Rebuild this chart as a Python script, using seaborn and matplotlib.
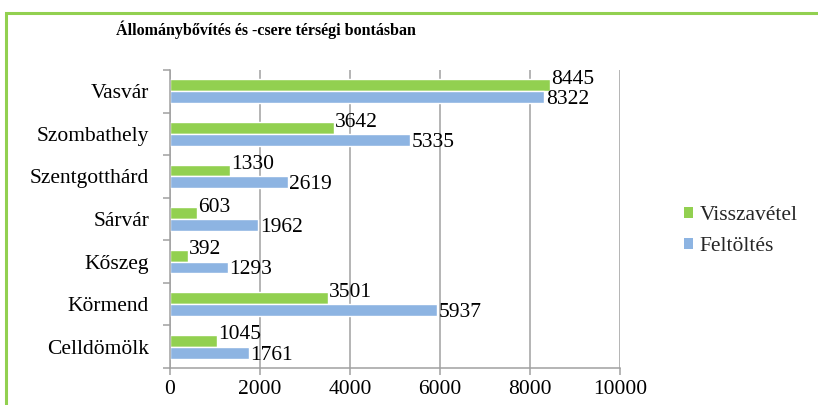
import matplotlib
matplotlib.use("Agg")
import matplotlib.pyplot as plt
import seaborn as sns
import pandas as pd
from matplotlib.patches import Rectangle, Patch
from matplotlib.ticker import FixedLocator

categories = ["Vasvár", "Szombathely", "Szentgotthárd", "Sárvár", "Kőszeg", "Körmend", "Celldömölk"]
visszavetel = [8445, 3642, 1330, 603, 392, 3501, 1045]
feltoltes = [8322, 5335, 2619, 1962, 1293, 5937, 1761]
series_names = ["Visszavétel", "Feltöltés"]
x_ticks = [0, 2000, 4000, 6000, 8000, 10000]
title = "Állománybővítés és -csere térségi bontásban"

colors = ["#92D050", "#8DB4E2"]

df = pd.DataFrame({
    "cat": categories * 2,
    "val": visszavetel + feltoltes,
    "series": [series_names[0]] * len(categories) + [series_names[1]] * len(categories),
})

sns.set_theme(style="white")
plt.rcParams["font.family"] = ["Liberation Serif", "DejaVu Serif"]

fs = 15.5
fig = plt.figure(figsize=(8.18, 4.05), dpi=100)
ax = fig.add_axes([170 / 818, 1 - 368 / 405, 450 / 818, 298 / 405])

sns.barplot(data=df, y="cat", x="val", hue="series", hue_order=series_names,
            order=categories, palette=colors, orient="h", width=0.56,
            saturation=1, ax=ax, legend=False, errorbar=None)

ax.set_xlim(0, 10000)
ax.set_ylim(len(categories) - 0.5, -0.5)
ax.set_xticks(x_ticks)
ax.set_xticklabels([str(t) for t in x_ticks], fontsize=fs, color="#000000")
ax.set_yticks(range(len(categories)))
ax.set_yticklabels(categories, fontsize=fs, color="#000000")
ax.yaxis.set_minor_locator(FixedLocator([i - 0.5 for i in range(len(categories) + 1)]))
ax.set_xlabel("")
ax.set_ylabel("")

grid_c = "#A0A0A0"
ax.xaxis.grid(True, color=grid_c, linewidth=1.1)
ax.yaxis.grid(False)
ax.set_axisbelow(True)
for s in ["top", "right"]:
    ax.spines[s].set_visible(False)
for s in ["left", "bottom"]:
    ax.spines[s].set_color(grid_c)
    ax.spines[s].set_linewidth(1.1)

ax.tick_params(axis="y", which="major", length=0, pad=15)
ax.tick_params(axis="y", which="minor", length=5, color=grid_c, width=1.1, left=True)
ax.tick_params(axis="x", which="major", length=5, color=grid_c, width=1.1, bottom=True, pad=4)

# data labels
for ci, cont in enumerate(ax.containers):
    for p in cont:
        w = p.get_width()
        yc = p.get_y() + p.get_height() / 2
        dy = 1 if ci == 0 else -5
        ax.annotate(f"{int(round(w))}", xy=(w, yc), xytext=(1, dy),
                    textcoords="offset points", ha="left", va="baseline",
                    fontsize=fs, color="#000000", annotation_clip=False)

fig.text(266 / 818, 1 - 30 / 405, title, ha="center", va="center",
         fontsize=11.5, fontweight="bold", color="#000000")

handles = [Patch(facecolor=c, edgecolor="none") for c in colors]
fig.legend(handles, series_names, loc="center left",
           bbox_to_anchor=(684 / 818, 1 - 231 / 405), frameon=False,
           fontsize=fs, handlelength=0.42, handleheight=0.42,
           handletextpad=0.3, labelspacing=0.55, borderpad=0, borderaxespad=0)

fig.patches.append(Rectangle((6 / 818, -0.2), 1.2, 1.2 - 13 / 405,
                             transform=fig.transFigure, fill=False,
                             edgecolor="#92D050", linewidth=2.2))

fig.savefig("out.png", dpi=100)
